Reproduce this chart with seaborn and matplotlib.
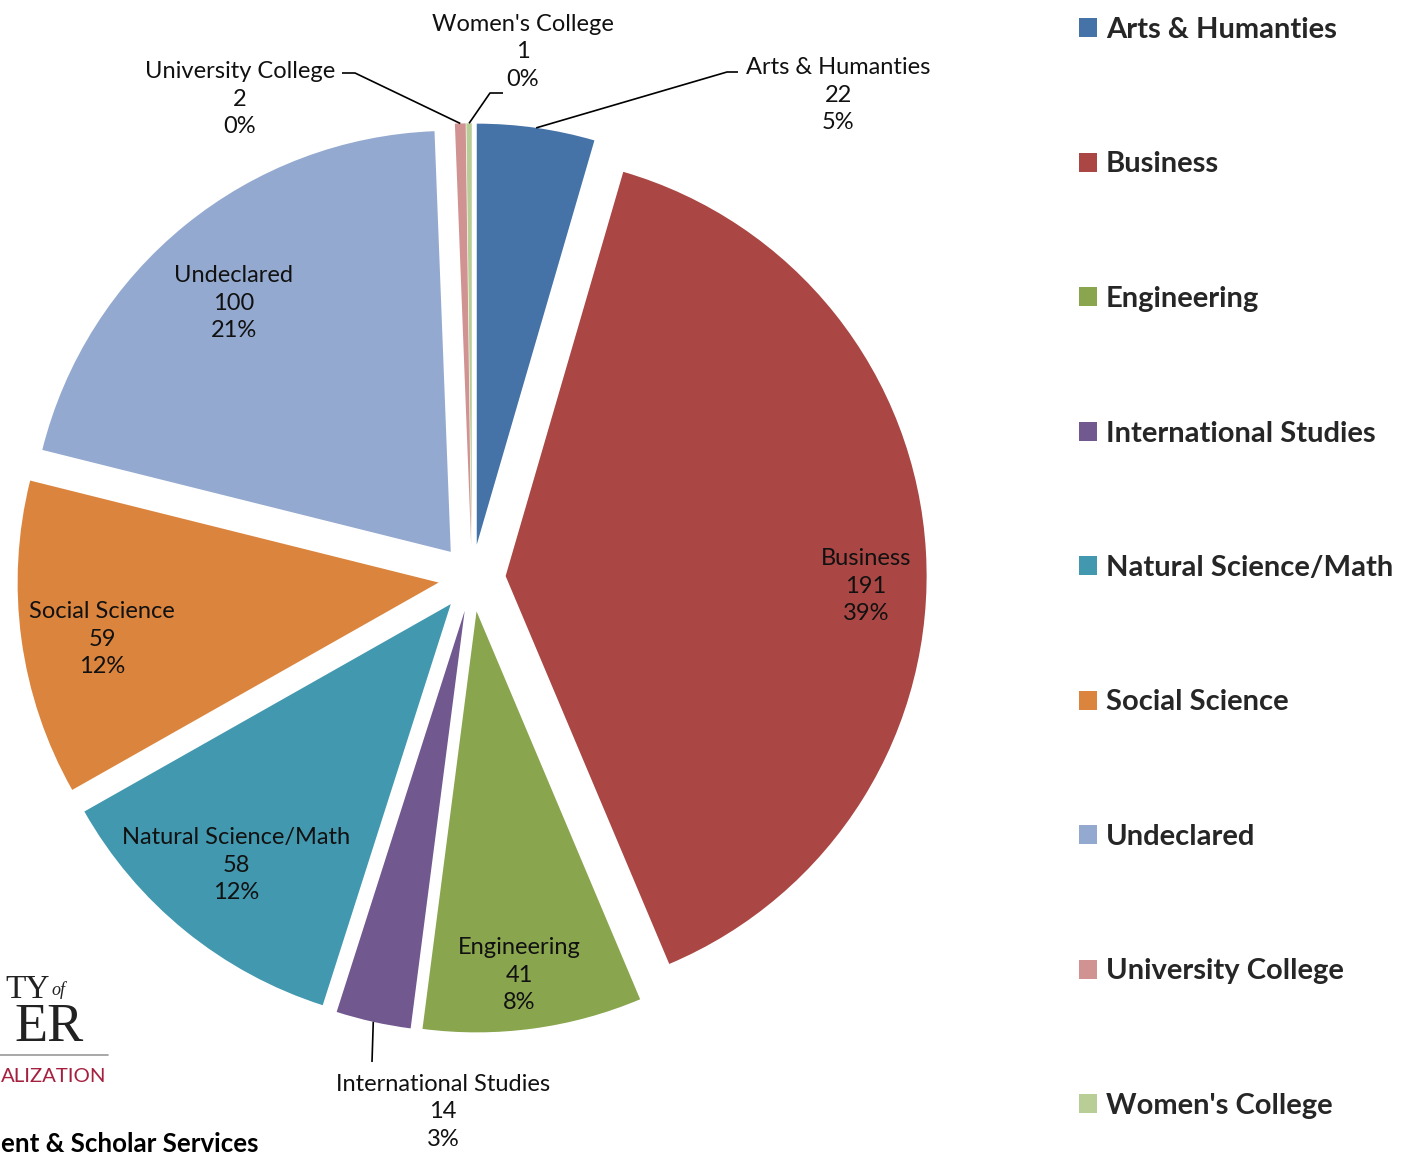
import numpy as np
import matplotlib.pyplot as plt
import seaborn as sns

# data
categories = ["Arts & Humanties", "Business", "Engineering", "International Studies",
              "Natural Science/Math", "Social Science", "Undeclared",
              "University College", "Women's College"]
counts = [22, 191, 41, 14, 58, 59, 100, 2, 1]
pct_labels = ["5%", "39%", "8%", "3%", "12%", "12%", "21%", "0%", "0%"]
colors = ["#4572A7", "#AA4643", "#89A54E", "#71588F", "#4198AF",
          "#DB843D", "#93A9CF", "#D19392", "#B9CD96"]

sns.set_theme(style="white")
plt.rcParams["font.family"] = ["Lato", "DejaVu Sans"]

W, H = 1410, 1158
CX, CY, R = 472, 578, 421   # pie centre / radius in pixels
EXPLODE = 0.08


def px(x, y):
    """pixel (from top-left) -> data coords of the pie axes"""
    return (x - CX) / R, (CY - y) / R


def fpx(x, y):
    """pixel -> figure fraction"""
    return x / W, 1 - y / H


fig = plt.figure(figsize=(W / 100, H / 100), dpi=100)
ax = fig.add_axes([0, 0, 1, 1])

wedges, _ = ax.pie(counts, colors=colors, startangle=90, counterclock=False,
                   explode=[EXPLODE] * len(counts), radius=1,
                   wedgeprops=dict(linewidth=0))
ax.set_xlim(-CX / R, (W - CX) / R)
ax.set_ylim(-(H - CY) / R, CY / R)
ax.axis("off")

# label layout (pixel positions of the text block centres)
label_px = {
    "Arts & Humanties": (838, 95),
    "Business": (866, 586),
    "Engineering": (519, 975),
    "International Studies": (443, 1112),
    "Natural Science/Math": (236, 865),
    "Social Science": (102, 639),
    "Undeclared": (234, 303),
    "University College": (240, 99),
    "Women's College": (523, 52),
}
# leader line elbows for outside labels (pixels)
leader_px = {
    "Arts & Humanties": [(727, 72), (738, 72)],
    "International Studies": [(372, 1062)],
    "University College": [(355, 73), (342, 73)],
    "Women's College": [(490, 93), (503, 93)],
}

for w, cat, n, pct in zip(wedges, categories, counts, pct_labels):
    x, y = px(*label_px[cat])
    ax.text(x, y, f"{cat}\n{n}\n{pct}", ha="center", va="center",
            fontsize=17, linespacing=1.38, color="#111111")
    if cat in leader_px:
        mid = np.deg2rad((w.theta1 + w.theta2) / 2)
        cx, cy = w.center
        pts = [(cx + w.r * np.cos(mid), cy + w.r * np.sin(mid))]
        pts += [px(*p) for p in leader_px[cat]]
        xs, ys = zip(*pts)
        ax.plot(xs, ys, color="black", lw=1.2, solid_capstyle="butt")

fig.legend(wedges, categories, loc="upper left",
           bbox_to_anchor=fpx(1079, 17), frameon=False,
           prop=dict(weight="bold", size=21),
           handlelength=0.62, handleheight=0.62, handletextpad=0.3,
           labelspacing=3.72, borderpad=0, borderaxespad=0)

# cropped logo / footer at bottom-left (only the visible part)
fig.text(*fpx(5, 998), "TY", ha="left", va="baseline",
         family="Liberation Serif", fontsize=24, color="#222222")
fig.text(*fpx(51, 995), "of", ha="left", va="baseline", style="italic",
         family="Liberation Serif", fontsize=13, color="#222222")
fig.text(*fpx(14, 1041), "ER", ha="left", va="baseline",
         family="Liberation Serif", fontsize=39, color="#222222")
fig.add_artist(plt.Line2D([0, 108 / W], [1 - 1055 / H] * 2, color="#999999", lw=1.2))
fig.text(*fpx(1, 1082), "ALIZATION", ha="left", va="baseline",
         fontsize=14.7, color="#A5203F")
fig.text(*fpx(1, 1152), "ent & Scholar Services", ha="left",
         va="baseline", fontsize=18.6, weight="bold", color="black")

fig.savefig("out.png", dpi=100, facecolor="white")
